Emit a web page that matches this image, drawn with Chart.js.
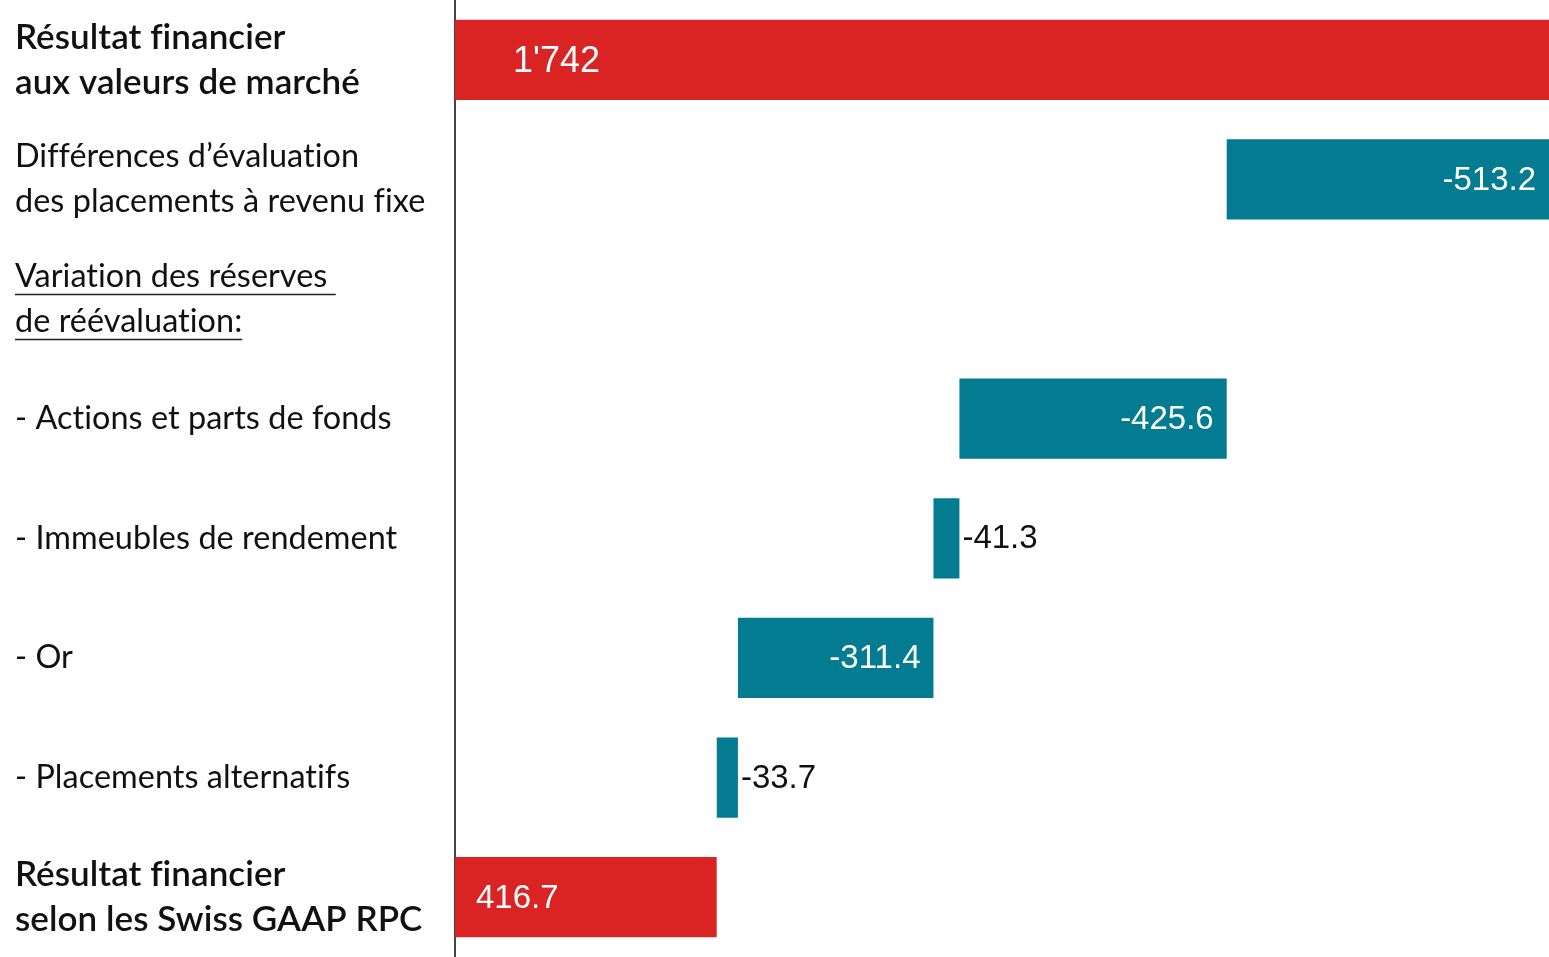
<!DOCTYPE html>
<html lang="fr">
<head>
<meta charset="utf-8">
<title>Résultat financier</title>
<script src="https://cdn.jsdelivr.net/npm/chart.js@4"></script>
<style>
    html, body { margin: 0; padding: 0; background: #fff; }
    #wrap { position: relative; width: 1549px; height: 957px; }
</style>
</head>
<body>
<div id="wrap"><canvas id="waterfall"></canvas></div>
<script>
// rubriques (une ligne par barre, tableaux = texte sur deux lignes)
const categories = [
    ['Résultat financier', 'aux valeurs de marché'],
    ['Différences d’évaluation', 'des placements à revenu fixe'],
    ['Variation des réserves ', 'de réévaluation:'],
    '- Actions et parts de fonds',
    '- Immeubles de rendement',
    '- Or',
    '- Placements alternatifs',
    ['Résultat financier', 'selon les Swiss GAAP RPC']
];

// montants en mio CHF, null = ligne de titre sans barre
const amounts = [1742, -513.2, null, -425.6, -41.3, -311.4, -33.7, 416.7];
const isTotal = [true, false, false, false, false, false, false, true];

const RED = '#da2424';
const TEAL = '#037b91';
const LABEL_FONT = 'Lato, "Open Sans", sans-serif';
const LABEL_SIZE = 32.4;
const TOTAL_SIZE = 35;
const VALUE_FONT = '"Liberation Sans", Arial, sans-serif';

// barres flottantes : les totaux partent de 0, les variations du cumul
let running = 0;
const floating = amounts.map(function (v, i) {
    if (v === null) return null;
    if (isTotal[i]) {
        running = v;
        return [0, v];
    }
    let from = running;
    running = running + v;
    return [from, running];
});

let fmt = function (v) {
    if (Number.isInteger(v) && Math.abs(v) >= 1000) {
        return String(v).replace(/\B(?=(\d{3})+(?!\d))/g, "'");
    }
    return v.toFixed(1);
};

// pas de ligatures (« ti », « fi ») dans les libellés
const noLigatures = {
    id: 'noLigatures',
    beforeDraw: function (chart) {
        chart.ctx.letterSpacing = '0.05px';
    }
};

// étiquettes de valeur : dans la barre, ou à droite si la barre est étroite
const valueLabels = {
    id: 'valueLabels',
    afterDatasetsDraw: function (chart) {
        let ctx = chart.ctx;
        let meta = chart.getDatasetMeta(0);
        ctx.save();
        ctx.letterSpacing = '0px';
        ctx.textBaseline = 'middle';
        meta.data.forEach(function (bar, i) {
            let v = amounts[i];
            if (v === null) return;
            let left = Math.min(bar.x, bar.base);
            let right = Math.max(bar.x, bar.base);
            let text = fmt(v);
            ctx.font = (i === 0 ? 36 : 33) + 'px ' + VALUE_FONT;
            if (isTotal[i]) {
                ctx.fillStyle = '#fff';
                ctx.textAlign = 'left';
                ctx.fillText(text, left + (i === 0 ? 58 : 21), bar.y + 2);
            } else if (right - left < 60) {
                ctx.fillStyle = '#111';
                ctx.textAlign = 'left';
                ctx.fillText(text, right + 3, bar.y + 1);
            } else {
                ctx.fillStyle = '#fff';
                ctx.textAlign = 'right';
                ctx.fillText(text, right - 13, bar.y + 1);
            }
        });
        ctx.restore();
    }
};

// soulignement du titre « Variation des réserves de réévaluation: »
const underlineTitle = {
    id: 'underlineTitle',
    afterDraw: function (chart) {
        let scale = chart.scales.y;
        let ctx = chart.ctx;
        let idx = 2;
        let lines = categories[idx];
        let lineH = 45;
        let yc = scale.getPixelForValue(idx);
        ctx.save();
        ctx.letterSpacing = '0.05px';
        ctx.font = LABEL_SIZE + 'px ' + LABEL_FONT;
        ctx.strokeStyle = '#222';
        ctx.lineWidth = 1.5;
        lines.forEach(function (line, k) {
            let y = yc + (k - (lines.length - 1) / 2) * lineH + 18;
            let w = ctx.measureText(line).width;
            ctx.beginPath();
            ctx.moveTo(15, y);
            ctx.lineTo(15 + w, y);
            ctx.stroke();
        });
        ctx.restore();
    }
};

let chart = new Chart(document.getElementById('waterfall'), {
    type: 'bar',
    data: {
        labels: categories,
        datasets: [{
            data: floating,
            backgroundColor: isTotal.map(t => t ? RED : TEAL),
            borderWidth: 0,
            barPercentage: 0.67,
            categoryPercentage: 1
        }]
    },
    options: {
        indexAxis: 'y',
        responsive: true,
        maintainAspectRatio: false,
        animation: false,
        layout: { padding: { left: 15, right: 0, top: 0, bottom: 0 } },
        plugins: {
            legend: { display: false },
            tooltip: { enabled: false }
        },
        scales: {
            x: {
                display: false,
                min: 0,
                max: 1742
            },
            y: {
                grid: { display: false, drawTicks: false },
                border: { display: true, color: '#444', width: 2 },
                afterFit: function (scale) {
                    scale.width = 440;
                    scale.paddingTop = 0;
                    scale.paddingBottom = 0;
                },
                ticks: {
                    autoSkip: false,
                    crossAlign: 'far',
                    padding: 0,
                    color: '#111',
                    font: function (c) {
                        let total = isTotal[c.index];
                        let size = total ? TOTAL_SIZE : LABEL_SIZE;
                        return {
                            family: LABEL_FONT,
                            size: size,
                            weight: total ? '600' : 'normal',
                            lineHeight: 45 / size
                        };
                    }
                }
            }
        }
    },
    plugins: [noLigatures, valueLabels, underlineTitle]
});
</script>
</body>
</html>
